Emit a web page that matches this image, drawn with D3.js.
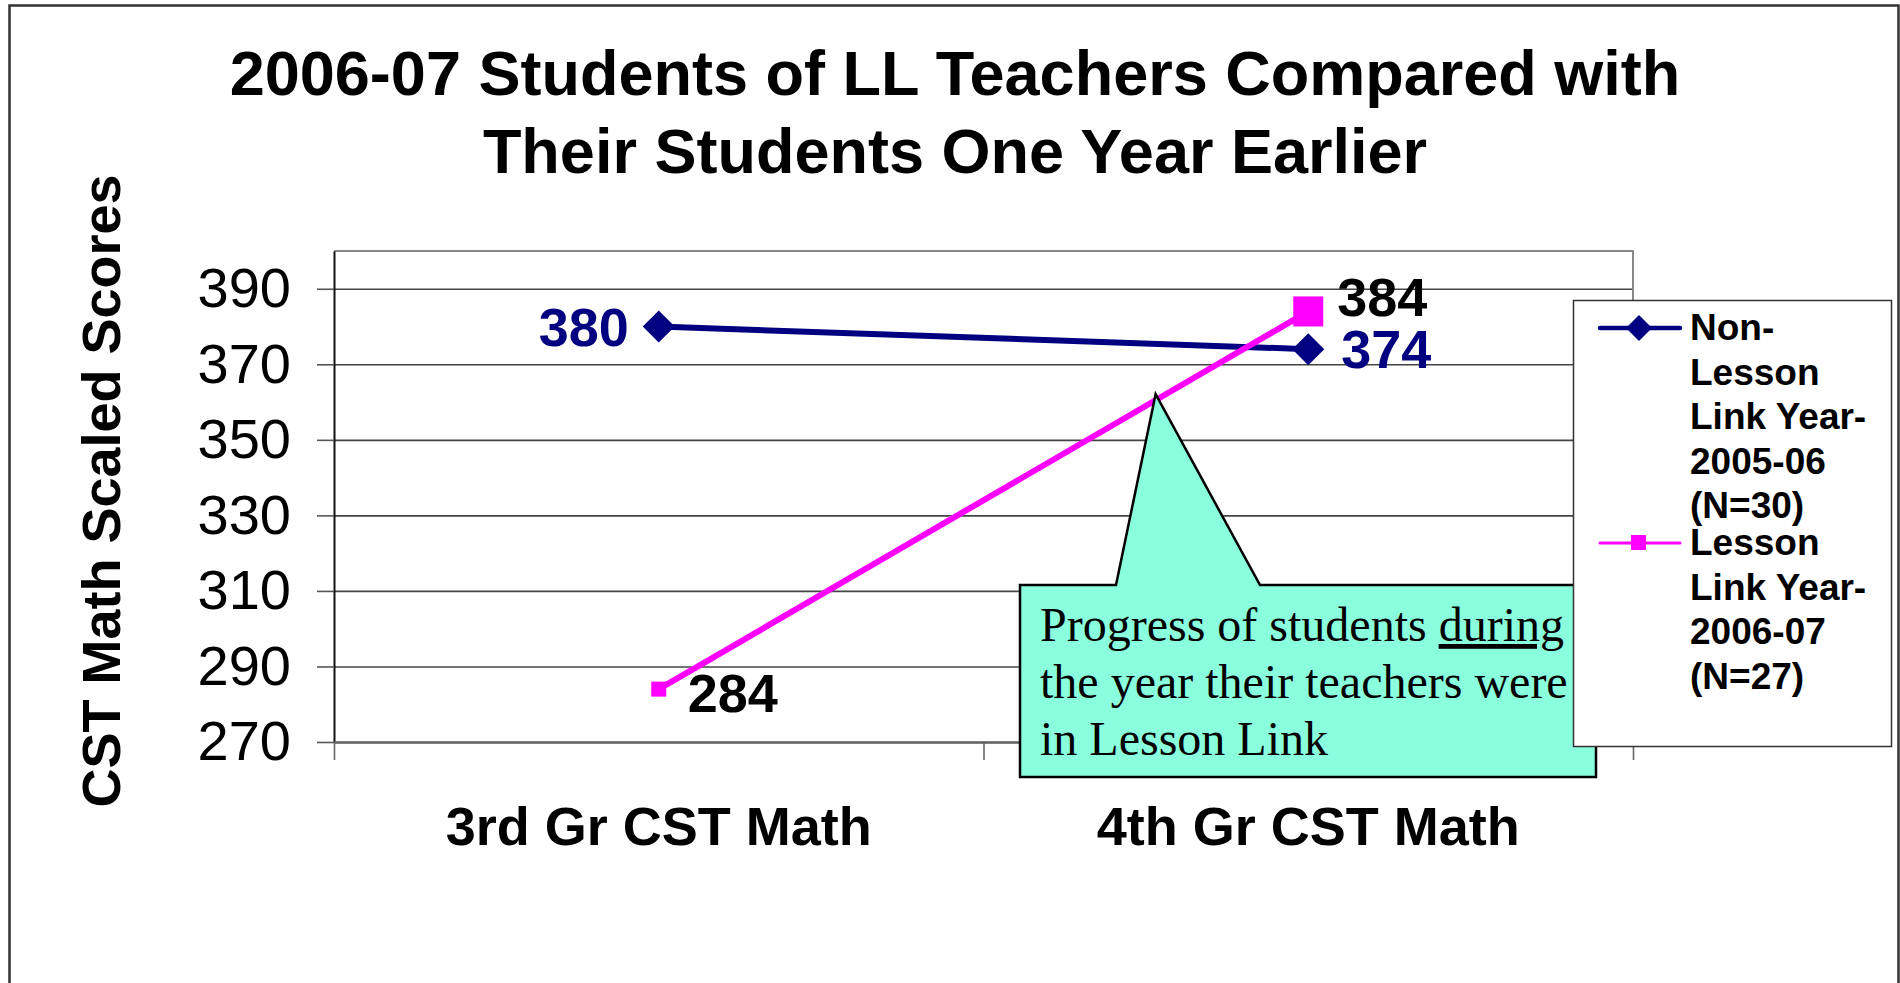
<!DOCTYPE html>
<html>
<head>
<meta charset="utf-8">
<script src="https://cdn.jsdelivr.net/npm/d3@7"></script>
<style>
  body { margin: 0; background: #fff; }
  svg { display: block; font-family: "Liberation Sans", Arial, sans-serif; }
</style>
</head>
<body>
<div class="chart"></div>
<script>

// chart values
var categories = ["3rd Gr CST Math", "4th Gr CST Math"];
var nonLessonLink = [380, 374];
var lessonLink = [284, 384];
var yTicks = [270, 290, 310, 330, 350, 370, 390];
var nonLessonLinkName = ["Non-", "Lesson", "Link Year-", "2005-06", "(N=30)"];
var lessonLinkName = ["Lesson", "Link Year-", "2006-07", "(N=27)"];
var titleLines = ["2006-07 Students of LL Teachers Compared with", "Their Students One Year Earlier"];
var yTitle = "CST Math Scaled Scores";
var calloutLines = [["Progress of students ", "during"], ["the year their teachers were"], ["in Lesson Link"]];

var width = 1900;
var height = 983;
var plot = { left: 334, right: 1633, top: 251, bottom: 742 };

var navy = "#000080";
var pink = "#ff00ff";

var svg = d3.select(".chart")
            .append("svg")
            .attr("width", width)
            .attr("height", height);

svg.append("rect")
   .attr("width", width)
   .attr("height", height)
   .attr("fill", "#fff");

// outer frame
svg.append("rect")
   .attr("x", 9.5)
   .attr("y", 5.5)
   .attr("width", 1889)
   .attr("height", 1000)
   .attr("fill", "none")
   .attr("stroke", "#333")
   .attr("stroke-width", 2.5);

var yScale = d3.scaleLinear()
               .domain([270, 400])
               .range([plot.bottom, plot.top]);

var xScale = d3.scalePoint()
               .domain(categories)
               .range([plot.left, plot.right])
               .padding(0.5);

// category boundaries for the x tick marks
var xEdges = d3.scaleLinear()
               .domain([0, categories.length])
               .range([plot.left, plot.right]);

// gridlines
svg.append("g")
   .attr("transform", "translate(" + plot.left + ",0)")
   .call(d3.axisLeft(yScale)
           .tickValues(yTicks)
           .tickSize(-(plot.right - plot.left))
           .tickFormat(""))
   .call(function(g) {
      g.select(".domain").remove();
      g.selectAll("line").attr("stroke", "#444").attr("stroke-width", 1.6);
   });

// plot area border, top and right
svg.append("path")
   .attr("d", "M" + plot.left + "," + plot.top + "H" + plot.right + "V" + plot.bottom)
   .attr("fill", "none")
   .attr("stroke", "#888")
   .attr("stroke-width", 2);

// y axis with outside ticks
svg.append("g")
   .attr("transform", "translate(" + plot.left + ",0)")
   .call(d3.axisLeft(yScale)
           .tickValues(yTicks)
           .tickSize(17)
           .tickPadding(26)
           .tickSizeOuter(0))
   .call(function(g) {
      g.select(".domain").attr("stroke", "#111").attr("stroke-width", 2);
      g.selectAll("line").attr("stroke", "#555").attr("stroke-width", 1.6);
      g.selectAll("text")
       .attr("font-size", "56px")
       .attr("font-family", "'Liberation Sans', Arial, sans-serif")
       .attr("fill", "#000");
   });

// x axis
svg.append("g")
   .attr("transform", "translate(0," + plot.bottom + ")")
   .call(d3.axisBottom(xEdges)
           .tickValues(d3.range(categories.length + 1))
           .tickSize(18)
           .tickSizeOuter(0)
           .tickFormat(""))
   .call(function(g) {
      g.select(".domain").attr("stroke", "#666").attr("stroke-width", 2.5);
      g.selectAll("line").attr("stroke", "#666").attr("stroke-width", 1.6);
   });

svg.selectAll(".xlabel")
   .data(categories)
   .enter()
   .append("text")
   .attr("class", "xlabel")
   .text(function(d) { return d; })
   .attr("x", function(d) { return xScale(d); })
   .attr("y", 845)
   .attr("text-anchor", "middle")
   .attr("font-size", "54px")
   .attr("font-weight", "bold");

// titles
svg.selectAll(".title")
   .data(titleLines)
   .enter()
   .append("text")
   .attr("class", "title")
   .text(function(d) { return d; })
   .attr("x", 955)
   .attr("y", function(d, i) { return 95 + i * 78; })
   .attr("text-anchor", "middle")
   .attr("font-size", "63px")
   .attr("font-weight", "bold");

svg.append("text")
   .text(yTitle)
   .attr("transform", "translate(120,491) rotate(-90)")
   .attr("text-anchor", "middle")
   .attr("font-size", "54px")
   .attr("font-weight", "bold");

// series lines
var line = d3.line()
             .x(function(d, i) { return xScale(categories[i]); })
             .y(function(d) { return yScale(d); });

svg.append("path")
   .datum(nonLessonLink)
   .attr("d", line)
   .attr("fill", "none")
   .attr("stroke", navy)
   .attr("stroke-width", 6);

svg.append("path")
   .datum(lessonLink)
   .attr("d", line)
   .attr("fill", "none")
   .attr("stroke", pink)
   .attr("stroke-width", 6);

var diamond = function(r) {
   return "M0," + (-r) + "L" + r + ",0L0," + r + "L" + (-r) + ",0Z";
};

svg.selectAll(".nonll")
   .data(nonLessonLink)
   .enter()
   .append("path")
   .attr("class", "nonll")
   .attr("d", diamond(16))
   .attr("transform", function(d, i) {
      return "translate(" + xScale(categories[i]) + "," + yScale(d) + ")";
   })
   .attr("fill", navy);

// the last lesson link point is drawn bigger, as in the slide
svg.selectAll(".ll")
   .data(lessonLink)
   .enter()
   .append("rect")
   .attr("class", "ll")
   .each(function(d, i) {
      var s = i === lessonLink.length - 1 ? 30 : 15;
      d3.select(this)
        .attr("x", xScale(categories[i]) - s / 2)
        .attr("y", yScale(d) - s / 2)
        .attr("width", s)
        .attr("height", s);
   })
   .attr("fill", pink);

// data labels
svg.selectAll(".nonll-label")
   .data(nonLessonLink)
   .enter()
   .append("text")
   .attr("class", "nonll-label")
   .text(function(d) { return d; })
   .attr("x", function(d, i) { return xScale(categories[i]) + (i === 0 ? -30 : 33); })
   .attr("y", function(d) { return yScale(d) + 19; })
   .attr("text-anchor", function(d, i) { return i === 0 ? "end" : "start"; })
   .attr("font-size", "54px")
   .attr("font-weight", "bold")
   .attr("fill", navy);

svg.selectAll(".ll-label")
   .data(lessonLink)
   .enter()
   .append("text")
   .attr("class", "ll-label")
   .text(function(d) { return d; })
   .attr("x", function(d, i) { return xScale(categories[i]) + 29; })
   .attr("y", function(d, i) { return yScale(d) + (i === 0 ? 23 : 5); })
   .attr("font-size", "54px")
   .attr("font-weight", "bold")
   .attr("fill", "#000");

// callout, pointing at the lesson link line
var t = 0.765;
var tipX = xScale(categories[0]) + t * (xScale(categories[1]) - xScale(categories[0]));
var tipY = yScale(lessonLink[0] + t * (lessonLink[1] - lessonLink[0])) - 6;
var box = { x0: 1020, x1: 1596, y0: 585, y1: 777 };

svg.append("path")
   .attr("d", "M" + box.x0 + "," + box.y0 + "H1116L" + tipX + "," + tipY + "L1260," + box.y0 +
              "H" + box.x1 + "V" + box.y1 + "H" + box.x0 + "Z")
   .attr("fill", "#8affdd")
   .attr("stroke", "#000")
   .attr("stroke-width", 2.5)
   .attr("stroke-linejoin", "miter");

var callout = svg.append("text")
                 .attr("font-family", "'Liberation Serif', 'Times New Roman', serif")
                 .attr("font-size", "48px")
                 .attr("fill", "#000");

calloutLines.forEach(function(parts, i) {
   parts.forEach(function(p, j) {
      var ts = callout.append("tspan").text(p);
      if (j === 0) ts.attr("x", 1040).attr("y", 641 + i * 57);
      if (j === 1) ts.style("text-decoration", "underline");
   });
});

// legend
var legend = svg.append("g");

legend.append("rect")
      .attr("x", 1573.5)
      .attr("y", 300.5)
      .attr("width", 318)
      .attr("height", 446)
      .attr("fill", "#fff")
      .attr("stroke", "#333")
      .attr("stroke-width", 1.5);

var entries = [
   { name: nonLessonLinkName, color: navy, y: 340, shape: "diamond", w: 4.5 },
   { name: lessonLinkName, color: pink, y: 555, shape: "square", w: 3 }
];

entries.forEach(function(e) {
   legend.append("line")
         .attr("x1", 1600)
         .attr("x2", 1680)
         .attr("y1", e.y - 12)
         .attr("y2", e.y - 12)
         .attr("stroke", e.color)
         .attr("stroke-width", e.w)
         .attr("stroke-linecap", "round");

   if (e.shape === "diamond") {
      legend.append("path")
            .attr("d", diamond(13))
            .attr("transform", "translate(1639," + (e.y - 12) + ")")
            .attr("fill", e.color);
   } else {
      legend.append("rect")
            .attr("x", 1631)
            .attr("y", e.y - 20)
            .attr("width", 15)
            .attr("height", 15)
            .attr("fill", e.color);
   }

   legend.append("text")
         .attr("font-size", "37px")
         .attr("font-weight", "bold")
         .selectAll("tspan")
         .data(e.name)
         .enter()
         .append("tspan")
         .attr("x", 1690)
         .attr("y", function(d, i) { return e.y + i * 44.6; })
         .text(function(d) { return d; });
});

</script>
</body>
</html>
